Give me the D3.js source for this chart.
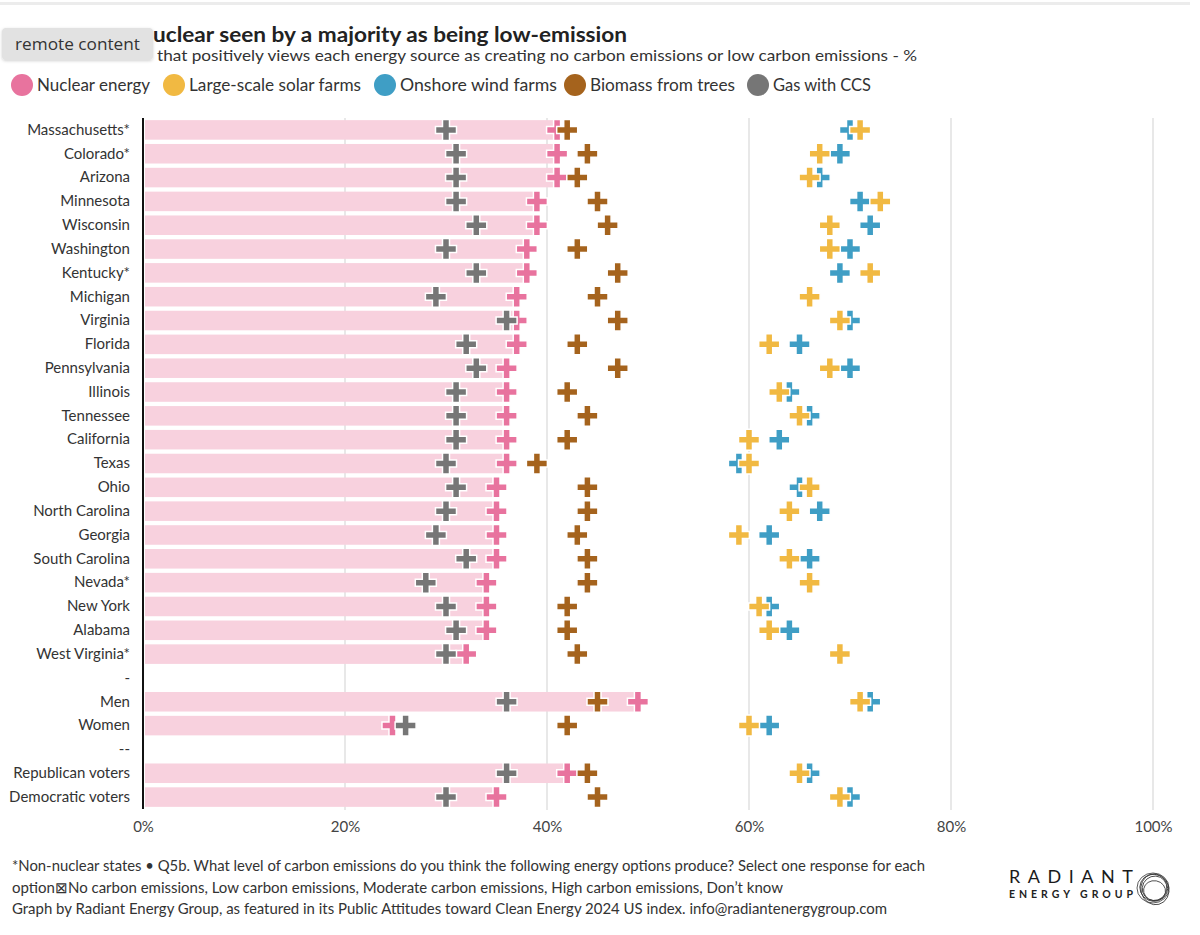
<!DOCTYPE html>
<html><head><meta charset="utf-8">
<script src="https://cdn.jsdelivr.net/npm/d3@7"></script>
<style>
html,body{margin:0;padding:0;background:#fff;}
svg{display:block;font-family:Lato,"Noto Sans",sans-serif;}
</style></head>
<body><svg id="c" width="1200" height="935"></svg>
<script>
const categories = ["Massachusetts*","Colorado*","Arizona","Minnesota","Wisconsin","Washington","Kentucky*","Michigan","Virginia","Florida","Pennsylvania","Illinois","Tennessee","California","Texas","Ohio","North Carolina","Georgia","South Carolina","Nevada*","New York","Alabama","West Virginia*","-","Men","Women","--","Republican voters","Democratic voters"];
const nuclear = [41,41,41,39,39,38,38,37,37,37,36,36,36,36,36,35,35,35,35,34,34,34,32,null,49,24.7,null,42,35];
const solar   = [71,67,66,73,68,68,72,66,69,62,68,63,65,60,60,66,64,59,64,66,61,62,69,null,71,60,null,65,69];
const wind    = [70,69,67,71,72,70,69,66,70,65,70,64,66,63,59,65,67,62,66,66,62,64,69,null,72,62,null,66,70];
const biomass = [42,44,43,45,46,43,47,45,47,43,47,42,44,42,39,44,44,43,44,44,42,42,43,null,45,42,null,44,45];
const gas     = [30,31,31,31,33,30,33,29,36,32,33,31,31,31,30,31,30,29,32,28,30,31,30,null,36,26,null,36,30];
const xTicks = [0,20,40,60,80,100];
const seriesNames = ["Nuclear energy","Large-scale solar farms","Onshore wind farms","Biomass from trees","Gas with CCS"];
const seriesColors = ["#e8739e","#f1b942","#3f9ec5","#a5631d","#767676"];
// visible parts of the title/subtitle (their beginnings are covered by the "remote content" badge)
const titleVisible = "uclear seen by a majority as being low-emission";
const subtitleVisible = "that positively views each energy source as creating no carbon emissions or low carbon emissions - %";
const footer = [
 "*Non-nuclear states \u2022 Q5b. What level of carbon emissions do you think the following energy options produce? Select one response for each",
 "option\u22A0No carbon emissions, Low carbon emissions, Moderate carbon emissions, High carbon emissions, Don\u2019t know",
 "Graph by Radiant Energy Group, as featured in its Public Attitudes toward Clean Energy 2024 US index. info@radiantenergygroup.com"
];

const svg = d3.select("#c");
const defs = svg.append("defs");
const f = defs.append("filter").attr("id","sh").attr("x","-10%").attr("y","-20%").attr("width","130%").attr("height","160%");
f.append("feDropShadow").attr("dx",0).attr("dy",1).attr("stdDeviation",1.5).attr("flood-color","#000").attr("flood-opacity",0.18);

// top border
svg.append("rect").attr("x",0).attr("y",2).attr("width",1190).attr("height",3).attr("fill","#ececec");

// title + subtitle
svg.append("text").attr("x",153).attr("y",42).attr("font-size",21).attr("font-weight",700).attr("fill","#222")
  .attr("textLength",474).attr("lengthAdjust","spacingAndGlyphs").text(titleVisible);
svg.append("text").attr("x",157).attr("y",61).attr("font-size",16).attr("fill","#333")
  .attr("textLength",760).attr("lengthAdjust","spacingAndGlyphs").text(subtitleVisible);

// "remote content" badge
const b = svg.append("g");
b.append("rect").attr("x",2).attr("y",28).attr("width",151).attr("height",32).attr("rx",4)
  .attr("fill","#e2e2e2").attr("filter","url(#sh)");
b.append("text").attr("x",15).attr("y",50).attr("font-size",17).attr("fill","#333")
  .attr("font-family","'Open Sans',sans-serif").attr("textLength",125).attr("lengthAdjust","spacingAndGlyphs").text("remote content");

// legend
const legX = [22,174,385,575,758];
const legW = [113,172,157,145,98];
const leg = svg.append("g");
seriesNames.forEach((n,i)=>{
  leg.append("circle").attr("cx",legX[i]).attr("cy",85).attr("r",11).attr("fill",seriesColors[i]);
  leg.append("text").attr("x",legX[i]+15).attr("y",91).attr("font-size",17).attr("fill","#333")
    .attr("textLength",legW[i]).attr("lengthAdjust","spacingAndGlyphs").text(n);
});

const x = d3.scaleLinear().domain([0,100]).range([143,1153]);
const y = d3.scaleBand().domain(categories).range([118,809]).padding(0);
const bh = y.bandwidth()*0.82;

// gridlines
svg.append("g").selectAll("line").data(xTicks.filter(t=>t>0)).join("line")
  .attr("x1",d=>x(d)).attr("x2",d=>x(d)).attr("y1",118).attr("y2",810)
  .attr("stroke","#e8e8e8").attr("stroke-width",2);

// x axis labels
const xAxis = d3.axisBottom(x).tickValues(xTicks).tickFormat(d=>d+"%").tickSize(0);
const gx = svg.append("g").attr("transform","translate(0,818)").call(xAxis);
gx.select(".domain").remove();
gx.selectAll("text").attr("font-size",15).attr("fill","#444").attr("font-family","Lato,sans-serif");

// y axis labels
const yAxis = d3.axisLeft(y).tickSize(0).tickPadding(13);
const gy = svg.append("g").attr("transform","translate(143,0)").call(yAxis);
gy.select(".domain").remove();
gy.selectAll("text").attr("font-size",15).attr("fill","#333").attr("font-family","Lato,sans-serif");

// bars
const rows = categories.map((c,i)=>({c,i}));
svg.append("g").selectAll("rect").data(rows.filter(r=>nuclear[r.i]!=null)).join("rect")
  .attr("x",x(0)+2).attr("y",r=>y(r.c)+(y.bandwidth()-bh)/2)
  .attr("width",r=>x(nuclear[r.i])-x(0)-2).attr("height",bh).attr("fill","#f8d1de");

// axis line
svg.append("line").attr("x1",143).attr("x2",143).attr("y1",118).attr("y2",809).attr("stroke","#111").attr("stroke-width",2);

// markers: draw order nuclear, wind, solar, biomass, gas
const cross = d3.symbol().type(d3.symbolCross).size(245);
const order = [[nuclear,0],[wind,2],[solar,1],[biomass,3],[gas,4]];
order.forEach(([arr,ci])=>{
  svg.append("g").selectAll("path").data(rows.filter(r=>arr[r.i]!=null)).join("path")
    .attr("d",cross)
    .attr("transform",r=>`translate(${x(arr[r.i])},${y(r.c)+y.bandwidth()/2})`)
    .attr("fill",seriesColors[ci]).attr("stroke","#fff").attr("stroke-width",1.5);
});

// footer
footer.forEach((t,i)=>{
  const w=[913,771,875][i];
  svg.append("text").attr("x",12).attr("y",871+i*21.5).attr("font-size",15).attr("fill","#333")
    .attr("textLength",w).attr("lengthAdjust","spacingAndGlyphs").text(t);
});

// logo
const lg = svg.append("g");
lg.append("text").attr("x",1009).attr("y",883).attr("font-size",18).attr("fill","#1a1a1a")
  .attr("textLength",124).attr("lengthAdjust","spacing").text("RADIANT");
lg.append("text").attr("x",1009).attr("y",898).attr("font-size",10.5).attr("font-weight",700).attr("fill","#222")
  .attr("textLength",124).attr("lengthAdjust","spacing").text("ENERGY GROUP");
[[16,15],[14,13.5],[12,12.5],[15.5,14],[10,11]].forEach(([rx,ry],k)=>{
  lg.append("ellipse").attr("cx",1153+k*0.6).attr("cy",888-k*0.5).attr("rx",rx).attr("ry",ry)
    .attr("fill","none").attr("stroke","#333").attr("stroke-width",0.8)
    .attr("transform",`rotate(${k*25},1153,888)`);
});
</script></body></html>
